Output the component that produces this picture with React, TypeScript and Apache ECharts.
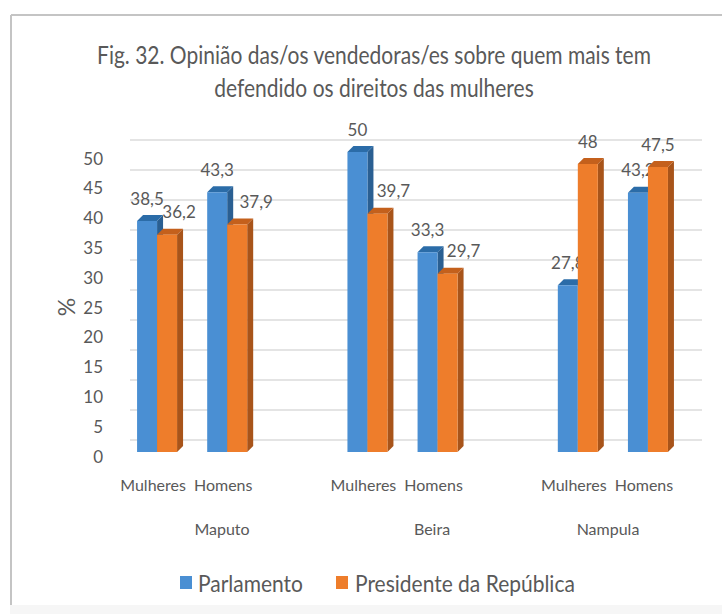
import React, { useEffect, useRef } from "react";
import * as echarts from "echarts";

const categories = ["Mulheres", "Homens", "", "Mulheres", "Homens", "", "Mulheres", "Homens"];
const parlamento = [38.5, 43.3, null, 50, 33.3, null, 27.8, 43.2];
const presidente = [36.2, 37.9, null, 39.7, 29.7, null, 48, 47.5];
const presidenteLabelShift = [12, 19, 0, 16, 16, 0, 0, 0];
const parlamentoLabelShift = [0, 0, 0, 0, 0, 0, 0, 0];
const yTicks = [0, 50];
const regions = ["Maputo", "Beira", "Nampula"];
const seriesNames = ["Parlamento", "Presidente da República"];
const titleLines = ["Fig. 32. Opinião das/os vendedoras/es sobre quem mais tem", "defendido os direitos das mulheres"];

const FONT = "Lato, sans-serif";
const GREY = "#595959";

function bar3d(colors: string[], side: number, shifts: number[]) {
  return (params: any, api: any) => {
    const idx = api.value(0);
    const v = api.value(1);
    if (v == null || isNaN(v)) return { type: "group", children: [] };
    const base = api.coord([idx, 0]);
    const top = api.coord([idx, v]);
    const w = 20;
    const d = 6;
    const x0 = side === 0 ? base[0] - w : base[0];
    const x1 = x0 + w;
    const yb = base[1];
    const yt = top[1];
    const label = String(v).replace(".", ",");
    return {
      type: "group",
      children: [
        { type: "polygon", shape: { points: [[x1, yt], [x1 + d, yt - 6], [x1 + d, yb - 6], [x1, yb]] }, style: { fill: colors[2] } },
        { type: "polygon", shape: { points: [[x0, yt], [x0 + d, yt - 6], [x1 + d, yt - 6], [x1, yt]] }, style: { fill: colors[1] } },
        { type: "rect", shape: { x: x0, y: yt, width: w, height: yb - yt }, style: { fill: colors[0] } },
        {
          type: "text",
          style: {
            x: x0 + w / 2 + shifts[idx],
            y: yt - 23,
            text: label,
            fill: GREY,
            font: `17px ${FONT}`,
            align: "center",
            verticalAlign: "middle",
          },
        },
      ],
    };
  };
}

export default function App() {
  const ref = useRef<HTMLDivElement>(null);
  useEffect(() => {
    const chart = echarts.init(ref.current!, undefined, { renderer: "svg" });
    const wallAxis = (gridIndex: number) => ({
      type: "value",
      gridIndex,
      min: yTicks[0],
      max: yTicks[1],
      interval: 5,
      axisLine: { show: false },
      axisTick: { show: false },
    });
    chart.setOption({
      animation: false,
      backgroundColor: "#ffffff",
      legend: { show: false },
      grid: [
        { left: 122, top: 152, width: 561, height: 300 },
        { left: 130, top: 140, width: 572, height: 300 },
        { left: 122, top: 158, width: 561, height: 298 },
      ],
      xAxis: [
        {
          type: "category",
          gridIndex: 0,
          data: categories,
          axisTick: { show: false },
          axisLine: { show: false },
          axisLabel: { interval: 0, margin: 24, color: GREY, fontFamily: FONT, fontSize: 16, padding: [0, 8, 0, 0] },
        },
        { type: "category", gridIndex: 1, data: categories, show: false },
        { type: "category", gridIndex: 2, data: categories, show: false },
      ],
      yAxis: [
        { ...wallAxis(0), axisLabel: { show: false }, splitLine: { show: false } },
        {
          ...wallAxis(1),
          axisLabel: { show: false },
          splitLine: { lineStyle: { color: "#e4e4e4", width: 2 } },
        },
        {
          ...wallAxis(2),
          splitLine: { show: false },
          name: "%",
          nameLocation: "middle",
          nameGap: 45,
          nameMoveOverlap: false,
          nameTextStyle: { color: GREY, fontFamily: FONT, fontSize: 23 },
          axisLabel: { color: GREY, fontFamily: FONT, fontSize: 17, margin: 19 },
        },
      ],
      series: [
        {
          type: "custom",
          name: seriesNames[0],
          renderItem: bar3d(["#4a8fd3", "#2b6ca8", "#2a5f92"], 0, parlamentoLabelShift),
          data: parlamento.map((v, i) => [i, v]),
          encode: { x: 0, y: 1 },
          z: 3,
        },
        {
          type: "custom",
          name: seriesNames[1],
          renderItem: bar3d(["#ee7d2b", "#c4601c", "#a8541a"], 1, presidenteLabelShift),
          data: presidente.map((v, i) => [i, v]),
          encode: { x: 0, y: 1 },
          z: 4,
        },
      ],
      graphic: [
        { type: "line", z: -1, shape: { x1: 11, y1: 15, x2: 722, y2: 15 }, style: { stroke: "#c4c4c4", lineWidth: 2 } },
        { type: "line", z: -1, shape: { x1: 11, y1: 15, x2: 11, y2: 605 }, style: { stroke: "#c4c4c4", lineWidth: 2 } },
        { type: "rect", z: -1, shape: { x: 10, y: 605, width: 712, height: 9 }, style: { fill: "#f6f6f6" } },
        ...titleLines.map((t, i) => ({
          type: "text",
          x: 374,
          y: 54 + i * 33,
          scaleX: 0.84,
          style: { text: t, fill: GREY, font: `25px ${FONT}`, align: "center", verticalAlign: "middle" },
        })),
        ...regions.map((t, i) => ({
          type: "text",
          x: [222, 432, 608][i],
          y: 528,
          style: { text: t, fill: GREY, font: `16px ${FONT}`, align: "center", verticalAlign: "middle" },
        })),
        { type: "rect", shape: { x: 180, y: 576, width: 12, height: 13 }, style: { fill: "#4a8fd3" } },
        { type: "text", x: 198, y: 583, scaleX: 0.875, style: { text: seriesNames[0], fill: GREY, font: `24px ${FONT}`, verticalAlign: "middle" } },
        { type: "rect", shape: { x: 336, y: 576, width: 12, height: 13 }, style: { fill: "#ee7d2b" } },
        { type: "text", x: 355, y: 583, scaleX: 0.875, style: { text: seriesNames[1], fill: GREY, font: `24px ${FONT}`, verticalAlign: "middle" } },
      ],
    });
    return () => chart.dispose();
  }, []);
  return <div ref={ref} style={{ width: 722, height: 614, position: "absolute", left: 0, top: 0 }} />;
}
